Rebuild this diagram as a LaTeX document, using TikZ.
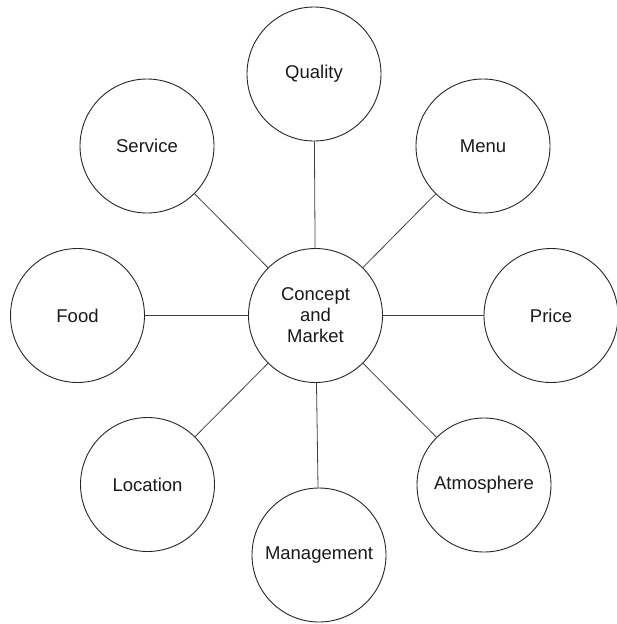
\documentclass[tikz,border=0pt]{standalone}
\usepackage{fontspec}
\setmainfont{Liberation Sans}
\begin{document}
\begin{tikzpicture}[x=1pt,y=-1pt,
  bubble/.style={circle,draw=black!85,line width=0.9pt,minimum size=134pt,inner sep=0pt,
    font=\fontsize{18.5}{21}\selectfont,align=center,text=black!90},
  link/.style={draw=black!75,line width=0.8pt}]
\useasboundingbox (0,0) rectangle (616,624);
\node[bubble] (c) at (315.5,315.5) {Concept\\and\\Market};
\node[bubble] (q) at (314,74) {Quality};
\node[bubble] (m) at (483,146) {Menu};
\node[bubble] (p) at (551,315.5) {Price};
\node[bubble] (a) at (484,485) {Atmosphere};
\node[bubble] (g) at (319,555) {Management};
\node[bubble] (l) at (147.5,484.5) {Location};
\node[bubble] (f) at (77.5,315.5) {Food};
\node[bubble] (s) at (147,146) {Service};
\foreach \n in {q,m,p,a,g,l,f,s} \draw[link] (c) -- (\n);
\end{tikzpicture}
\end{document}
